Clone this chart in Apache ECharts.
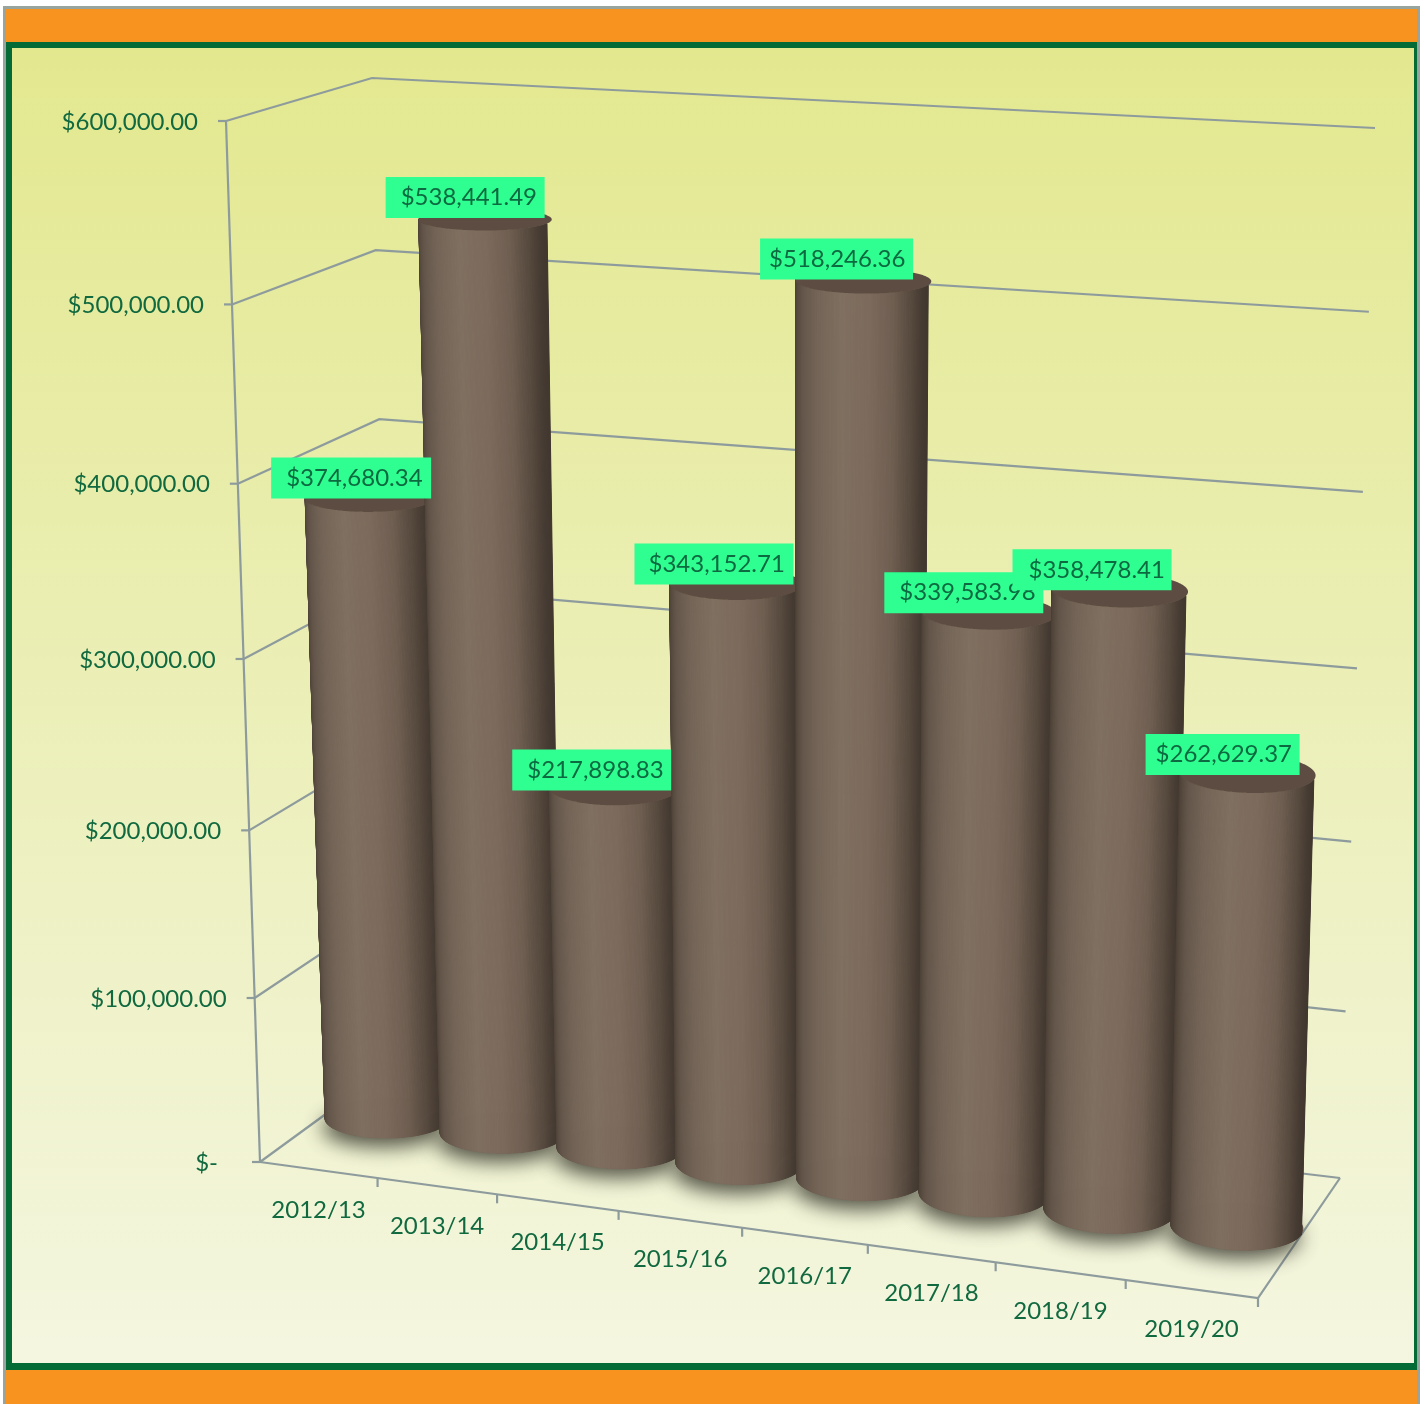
<!DOCTYPE html>
<html><head><meta charset="utf-8">
<style>html,body{margin:0;padding:0;background:#fff}#c{width:1425px;height:1404px}</style>
<script src="https://cdn.jsdelivr.net/npm/echarts@6/dist/echarts.min.js"></script>
</head><body><div id="c"></div>
<script>
const categories = ['2012/13','2013/14','2014/15','2015/16','2016/17','2017/18','2018/19','2019/20'];
const amounts = [374680.34,538441.49,217898.83,343152.71,518246.36,339583.98,358478.41,262629.37];
const valueTicks = [0,100000,200000,300000,400000,500000,600000];
const valueTickLabels = ['$-','$100,000.00','$200,000.00','$300,000.00','$400,000.00','$500,000.00','$600,000.00'];

/* ---- 3D box of the plot as seen in the picture: two projective planes ---- */
const FRONT = [[260,1162],[1258,1298],[1296,189],[226,121]];
const BACK  = [[393,1065],[1340,1178],[1375,128],[372,78]];
function quadMap(p){
  const [p0,p1,p2,p3]=p;
  const dx1=p1[0]-p2[0],dx2=p3[0]-p2[0],sx=p0[0]-p1[0]+p2[0]-p3[0];
  const dy1=p1[1]-p2[1],dy2=p3[1]-p2[1],sy=p0[1]-p1[1]+p2[1]-p3[1];
  const den=dx1*dy2-dx2*dy1;
  const g=(sx*dy2-dx2*sy)/den,h=(dx1*sy-sx*dy1)/den;
  const a=p1[0]-p0[0]+g*p1[0],b=p3[0]-p0[0]+h*p3[0],c=p0[0];
  const d=p1[1]-p0[1]+g*p1[1],e=p3[1]-p0[1]+h*p3[1],f=p0[1];
  return (s,t)=>{const w=g*s+h*t+1;return [(a*s+b*t+c)/w,(d*s+e*t+f)/w];};
}
const frontMap=quadMap(FRONT), backMap=quadMap(BACK);
const GRID={left:100,top:100,width:800,height:600};
/* flat pixel from the library's axes -> picture position at a depth (0 front .. 1 back) */
function project(flat,depth){
  const s=(flat[0]-GRID.left)/GRID.width, t=(GRID.top+GRID.height-flat[1])/GRID.height;
  const f=frontMap(s,t), b=backMap(s,t);
  return [f[0]+(b[0]-f[0])*depth, f[1]+(b[1]-f[1])*depth];
}
const GRID_COLOR='#8e9b9d', TEXT_COLOR='#11693f', FONT='Lato';
const RADIUS_U=0.5, RADIUS_D=0.19, MID=0.53, TOP_SHIFT=-3;
const SHADE=[[0,[62,52,44]],[0.05,[80,68,58]],[0.15,[100,86,74]],[0.3,[115,100,87]],[0.5,[127,111,96]],[0.7,[124,106,92]],[0.85,[110,94,81]],[0.95,[85,72,61]],[1,[66,56,48]]];
function shade(x){
  for(let i=1;i<SHADE.length;i++){ if(x<=SHADE[i][0]){
    const a=SHADE[i-1],b=SHADE[i],k=(x-a[0])/(b[0]-a[0]);
    return 'rgb('+a[1].map((v,j)=>Math.round(v+(b[1][j]-v)*k)).join(',')+')';
  }}
  return 'rgb(66,56,48)';
}
function line(points,w){return {type:'polyline',silent:true,shape:{points},style:{stroke:GRID_COLOR,lineWidth:w||2.2,fill:null}};}
function ring(api,i,v,t){
  const band=api.size([1,0])[0], c=api.coord([i,v]);
  const depth=MID+RADIUS_D*Math.sin(t);
  const p=project([c[0]+RADIUS_U*band*Math.cos(t),c[1]],depth);
  if(v>0) p[0]+=TOP_SHIFT;
  return p;
}
const renderValueAxis=(params,api)=>{
  const v=api.value(0), idx=params.dataIndex;
  const x0=api.coord([0,v]), band=api.size([1,0])[0];
  const left=[x0[0]-band/2,x0[1]], right=[x0[0]+band*7.5,x0[1]];
  const a=project(left,0), b=project(left,1), c=project(right,1);
  const kids=[line([a,b,c]), line([[a[0]-8,a[1]],a])];
  if(v===0){
    const fr=project(right,0);
    kids.push(line([a,fr,c]));
    const top=api.coord([0,valueTicks[valueTicks.length-1]]);
    kids.push(line([a,project([left[0],top[1]],0)]));
  }
  kids.push({type:'text',silent:true,style:{text:valueTickLabels[idx],x:a[0]-(v===0?42:28),y:a[1]+1,align:'right',verticalAlign:'middle',fontFamily:FONT,fontSize:24,fill:TEXT_COLOR}});
  return {type:'group',children:kids};
};
const renderCategoryAxis=(params,api)=>{
  const i=api.value(0), c=api.coord([i,0]), band=api.size([1,0])[0];
  const tickEnd=project([c[0]+band/2,c[1]],0), mid=project(c,0);
  return {type:'group',children:[
    line([tickEnd,[tickEnd[0],tickEnd[1]+9]]),
    {type:'text',silent:true,style:{text:categories[i],x:mid[0],y:mid[1]+40,align:'center',verticalAlign:'middle',fontFamily:FONT,fontSize:24,fill:TEXT_COLOR}}
  ]};
};
const renderCylinder=(params,api)=>{
  const i=api.value(0), v=api.value(1), N=240, kids=[];
  const baseLoop=[],topLoop=[];
  for(let k=0;k<N;k++){const t=k/N*2*Math.PI;baseLoop.push(ring(api,i,0,t));topLoop.push(ring(api,i,v,t));}
  kids.push({type:'polygon',silent:true,shape:{points:baseLoop},style:{fill:'#5b4c41',shadowBlur:20,shadowColor:'rgba(55,55,45,0.85)',shadowOffsetY:9,shadowOffsetX:-3}});
  const half=N/2;
  for(let k=half;k<N;k++){
    const k2=(k+1)%N, m=(k-half+0.5)/half;
    const x=(1-Math.cos(Math.PI*m))/2;
    const fill=shade(x);
    kids.push({type:'polygon',silent:true,shape:{points:[topLoop[k],topLoop[k2],baseLoop[k2],baseLoop[k]]},style:{fill,stroke:fill,lineWidth:1}});
  }
  kids.push({type:'polygon',silent:true,shape:{points:topLoop},style:{fill:'#5c4c41'}});
  return {type:'group',children:kids};
};
const LABEL_LEFT_PAD=[15,15,15,14,9,15,16,10], LABEL_RIGHT_PAD=[10,9,9,10,9,9,8,9], LABEL_NUDGE_X=[0,2,-2,0,-4,0,0,0], LABEL_NUDGE_Y=[0,-2,2.5,0,-2,0,-0.5,1];
const renderLabel=(params,api)=>{
  const i=api.value(0), v=api.value(1), c=api.coord([i,v]), band=api.size([1,0])[0];
  const at=project([c[0]-0.70*band,c[1]],0.5), cy=project(c,MID)[1]-20+LABEL_NUDGE_Y[i];
  const tx=at[0]+LABEL_NUDGE_X[i];
  const tw=135, lp=LABEL_LEFT_PAD[i], rp=LABEL_RIGHT_PAD[i];
  const text='$'+v.toLocaleString('en-US',{minimumFractionDigits:2,maximumFractionDigits:2});
  return {type:'group',children:[
    {type:'rect',silent:true,shape:{x:tx-lp,y:cy-20.5,width:tw+lp+rp,height:41},style:{fill:'#2eff90'}},
    {type:'text',silent:true,style:{text,x:tx,y:cy,align:'left',verticalAlign:'middle',fontFamily:FONT,fontSize:24,fill:'#0d6a40'}}
  ]};
};
const W=1425,H=1404;
const chart=echarts.init(document.getElementById('c'),null,{renderer:'canvas',width:W,height:H});
const rows=categories.map((_,i)=>[i,amounts[i]]);
chart.setOption({
  animation:false,
  backgroundColor:'#ffffff',
  graphic:{elements:[
    {type:'rect',silent:true,z:-10,shape:{x:3,y:6,width:1417,height:1398},style:{fill:'#98a59e'}},
    {type:'rect',silent:true,z:-9,shape:{x:6,y:9,width:1411,height:1395},style:{fill:'#f7931e'}},
    {type:'rect',silent:true,z:-8,shape:{x:6,y:42,width:1411,height:1328},style:{fill:'#056b36'}},
    {type:'rect',silent:true,z:-7,shape:{x:12,y:48,width:1402,height:1315},
      style:{fill:new echarts.graphic.LinearGradient(0,0,0,1,[{offset:0,color:'#e3e88f'},{offset:1,color:'#f4f6e0'}])}}
  ]},
  grid:GRID,
  xAxis:{type:'category',data:categories,show:false,boundaryGap:true},
  yAxis:{type:'value',min:0,max:600000,interval:100000,show:false},
  series:[
    {type:'custom',z:2,data:valueTicks.map(v=>[v]),encode:{x:-1,y:0},renderItem:renderValueAxis,silent:true,clip:false},
    {type:'custom',z:2,data:categories.map((_,i)=>[i]),encode:{x:0,y:-1},renderItem:renderCategoryAxis,silent:true,clip:false},
    {type:'custom',z:3,data:rows,encode:{x:0,y:1},renderItem:renderCylinder,silent:true,clip:false},
    {type:'custom',z:4,data:rows,encode:{x:0,y:1},renderItem:renderLabel,silent:true,clip:false}
  ]
});
</script></body></html>
